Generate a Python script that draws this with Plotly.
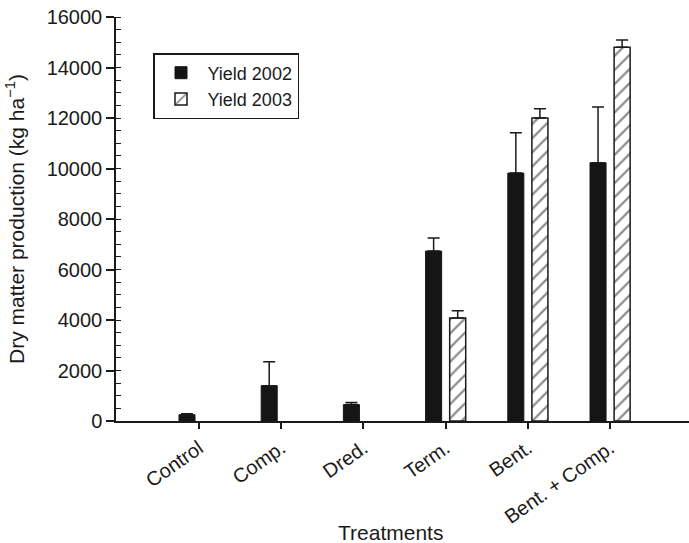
import plotly.graph_objects as go

categories = ["Control", "Comp.", "Dred.", "Term.", "Bent.", "Bent. + Comp."]
yield_2002 = [250, 1400, 650, 6730, 9820, 10230]
err_2002 = [40, 950, 80, 520, 1600, 2210]
yield_2003 = [None, None, None, 4080, 12000, 14800]
err_2003 = [0, 0, 0, 290, 370, 290]
y_ticks = [0, 2000, 4000, 6000, 8000, 10000, 12000, 14000, 16000]

pos = list(range(len(categories)))
bw = 0.195
font = "Liberation Sans, Arial, sans-serif"
ink = "#1a1a1a"

fig = go.Figure()
fig.add_trace(go.Bar(
    x=pos, y=yield_2002, name="Yield 2002", width=bw, offset=-0.244,
    marker=dict(color="#151515", line=dict(color="#151515", width=1)),
    error_y=dict(type="data", array=err_2002, arrayminus=[0]*6, symmetric=False,
                 color=ink, thickness=1.5, width=6),
))
fig.add_trace(go.Bar(
    x=pos, y=yield_2003, name="Yield 2003", width=bw, offset=0.049,
    marker=dict(color="white", line=dict(color=ink, width=1.5),
                pattern=dict(shape="/", fgcolor=ink, bgcolor="white", size=10, solidity=0.22)),
    error_y=dict(type="data", array=err_2003, arrayminus=[0]*6, symmetric=False,
                 color=ink, thickness=1.5, width=6),
))

fig.add_annotation(text="Treatments", xref="paper", yref="paper",
                   x=(390 - 116) / 573, y=-0.277, xanchor="center", yanchor="middle",
                   showarrow=False, font=dict(size=21, color=ink, family=font))

fig.update_layout(
    width=689, height=543,
    margin=dict(l=116, r=0, t=17, b=122),
    paper_bgcolor="white", plot_bgcolor="white",
    barmode="overlay",
    font=dict(family=font, size=20, color=ink),
    showlegend=True,
    legend=dict(x=(153 - 116) / 573, y=(421 - 53) / 404, xanchor="left", yanchor="top",
                bordercolor=ink, borderwidth=1.5, bgcolor="white", itemwidth=43,
                font=dict(size=18), tracegroupgap=0),
    xaxis=dict(
        range=[-1.01, 5.96], tickmode="array", tickvals=pos, ticktext=categories,
        tickangle=-35, ticks="outside", ticklen=6, tickwidth=1.5, tickcolor=ink,
        showline=True, linecolor=ink, linewidth=1.5, showgrid=False, zeroline=False,
        tickfont=dict(size=20),
    ),
    yaxis=dict(
        range=[0, 16000], tickmode="array", tickvals=y_ticks, tickformat="d",
        ticks="outside", ticklen=8, tickwidth=1.5, tickcolor=ink,
        minor=dict(dtick=500, ticks="inside", ticklen=5, tickwidth=1, tickcolor=ink),
        showline=True, linecolor=ink, linewidth=1.5, showgrid=False, zeroline=False,
        tickfont=dict(size=20),
        title=dict(text="Dry matter production (kg ha<sup>−1</sup>)", font=dict(size=21), standoff=16),
    ),
)

fig.write_html("out.html")
